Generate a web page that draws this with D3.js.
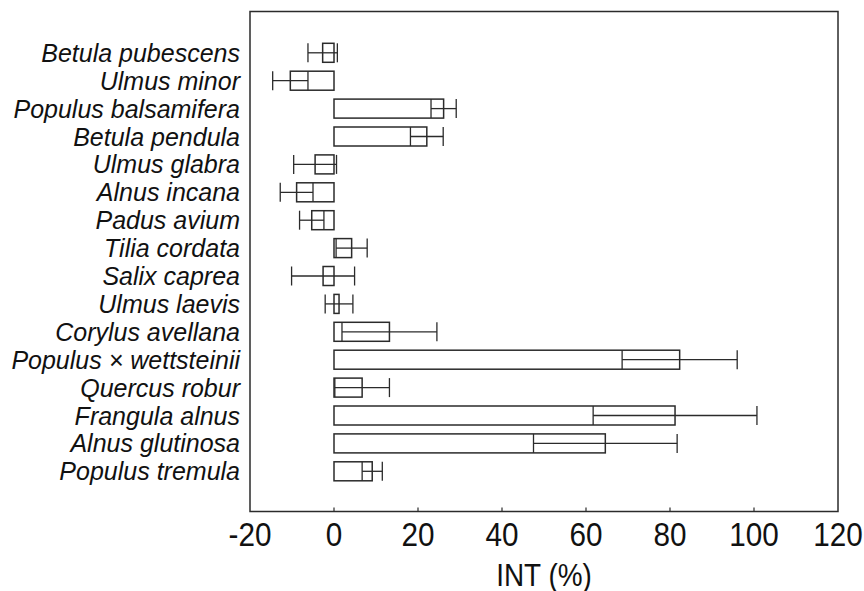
<!DOCTYPE html>
<html>
<head>
<meta charset="utf-8">
<script src="https://cdn.jsdelivr.net/npm/d3@7"></script>
<style>
  body { margin: 0; background: #fff; }
  svg { display: block; font-family: "Liberation Sans", Arial, sans-serif; }
</style>
</head>
<body>
<svg id="chart" width="864" height="591"></svg>
<script>
// species, top to bottom
const species = [
  "Betula pubescens", "Ulmus minor", "Populus balsamifera", "Betula pendula",
  "Ulmus glabra", "Alnus incana", "Padus avium", "Tilia cordata",
  "Salix caprea", "Ulmus laevis", "Corylus avellana", "Populus × wettsteinii",
  "Quercus robur", "Frangula alnus", "Alnus glutinosa", "Populus tremula"
];
// mean INT (%)
const means = [-2.7, -10.4, 26.1, 22.1, -4.5, -8.9, -5.3, 4.2, -2.6, 1.2, 13.2, 82.3, 6.7, 81.2, 64.6, 9.1];
// error (half width of whisker)
const errs = [3.5, 4.2, 3.0, 3.9, 5.1, 3.9, 2.9, 3.7, 7.5, 3.3, 11.3, 13.7, 6.5, 19.5, 17.1, 2.4];
const xTicks = [-20, 0, 20, 40, 60, 80, 100, 120];

const data = species.map((s, i) => ({ name: s, mean: means[i], err: errs[i] }));

const svg = d3.select("#chart");
const plotL = 250, plotR = 838, plotT = 11.5, plotB = 511.5;
const ink = "#2b2b2b";

const x = d3.scaleLinear().domain([-20, 120]).range([plotL, plotR]);
const y = d3.scalePoint().domain(species).range([52.8, 471.3]);
const barH = 19, capH = 19;

// frame
svg.append("rect")
  .attr("x", plotL).attr("y", plotT)
  .attr("width", plotR - plotL).attr("height", plotB - plotT)
  .attr("fill", "none").attr("stroke", ink).attr("stroke-width", 1.5);

// inner ticks on the bottom axis
svg.append("g").selectAll("line")
  .data(xTicks.slice(1, -1))
  .join("line")
  .attr("x1", d => x(d)).attr("x2", d => x(d))
  .attr("y1", plotB).attr("y2", plotB - 4)
  .attr("stroke", ink).attr("stroke-width", 1.2);

// tick labels, a bit narrow like the original
svg.append("g").selectAll("text")
  .data(xTicks)
  .join("text")
  .attr("transform", d => `translate(${x(d)},546) scale(0.9,1)`)
  .attr("text-anchor", "middle")
  .attr("font-size", 33)
  .attr("fill", "#111")
  .text(d => d);

svg.append("text")
  .attr("transform", `translate(${x(50)},586) scale(0.9,1)`)
  .attr("text-anchor", "middle")
  .attr("font-size", 31)
  .attr("fill", "#111")
  .text("INT (%)");

// species labels
svg.append("g").selectAll("text")
  .data(data)
  .join("text")
  .attr("x", 240).attr("y", d => y(d.name))
  .attr("dy", "0.36em")
  .attr("text-anchor", "end")
  .attr("font-size", 25)
  .attr("font-style", "italic")
  .attr("fill", "#111")
  .text(d => d.name);

const rows = svg.append("g").selectAll("g")
  .data(data)
  .join("g");

// bars from 0 to mean
rows.append("rect")
  .attr("x", d => x(Math.min(0, d.mean)))
  .attr("y", d => y(d.name) - barH / 2)
  .attr("width", d => Math.abs(x(d.mean) - x(0)))
  .attr("height", barH)
  .attr("fill", "#fff").attr("stroke", ink).attr("stroke-width", 1.5);

// error whiskers
rows.append("line")
  .attr("x1", d => x(d.mean - d.err)).attr("x2", d => x(d.mean + d.err))
  .attr("y1", d => y(d.name)).attr("y2", d => y(d.name))
  .attr("stroke", ink).attr("stroke-width", 1.3);

rows.selectAll("line.cap")
  .data(d => [{ n: d.name, v: d.mean - d.err }, { n: d.name, v: d.mean + d.err }])
  .join("line")
  .attr("class", "cap")
  .attr("x1", d => x(d.v)).attr("x2", d => x(d.v))
  .attr("y1", d => y(d.n) - capH / 2).attr("y2", d => y(d.n) + capH / 2)
  .attr("stroke", ink).attr("stroke-width", 1.3);
</script>
</body>
</html>
